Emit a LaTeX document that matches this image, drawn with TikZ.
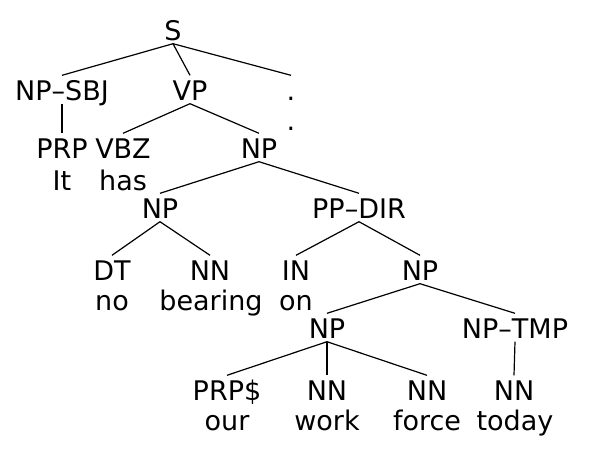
\documentclass[tikz,border=0pt]{standalone}
\usepackage{fontspec}
\setmainfont{DejaVu Sans}
\begin{document}
\begin{tikzpicture}[x=1pt,y=-1pt,
  lab/.style={font=\fontsize{27}{27}\selectfont, anchor=base, inner xsep=0pt, inner ysep=3.5pt, text height=21pt, text depth=0pt},
  word/.style={font=\fontsize{27}{27}\selectfont, anchor=base, inner sep=0pt},
  branch/.style={line width=1.2pt, black}]
\useasboundingbox (0,0) rectangle (590,448);
% categories
\node[lab] (S) at (173,40) {S};
\node[lab] (NPSBJ) at (62,100) {NP–SBJ};
\node[lab] (VP) at (190,100) {VP};
\node[lab] (dotc) at (291,100) {.};
\node[lab] (PRP) at (62,158) {PRP};
\node[lab] (VBZ) at (123,158) {VBZ};
\node[lab] (NPa) at (259,158) {NP};
\node[lab] (NPb) at (160,218) {NP};
\node[lab] (PPDIR) at (359,218) {PP–DIR};
\node[lab] (DT) at (112,280) {DT};
\node[lab] (NNa) at (210,280) {NN};
\node[lab] (IN) at (296,280) {IN};
\node[lab] (NPc) at (420,280) {NP};
\node[lab] (NPd) at (327,338) {NP};
\node[lab] (NPTMP) at (515,338) {NP–TMP};
\node[lab] (PRPD) at (227,400) {PRP\$};
\node[lab] (NNb) at (327,400) {NN};
\node[lab] (NNc) at (427,400) {NN};
\node[lab] (NNd) at (514,400) {NN};
% words
\node[word] (wdot) at (291,130) {.};
\node[word] (wIt) at (62,190) {It};
\node[word] (whas) at (123,190) {has};
\node[word] (wno) at (112,310) {no};
\node[word] (wbearing) at (211,310) {bearing};
\node[word] (won) at (296,310) {on};
\node[word] (wour) at (227,430) {our};
\node[word] (wwork) at (327,430) {work};
\node[word] (wforce) at (427,430) {force};
\node[word] (wtoday) at (515,430) {today};
% branches
\draw[branch] (S.south) -- (NPSBJ.north);
\draw[branch] (S.south) -- (VP.north);
\draw[branch] (S.south) -- (dotc.north);
\draw[branch] (NPSBJ.south) -- (PRP.north);
\draw[branch] (VP.south) -- (VBZ.north);
\draw[branch] (VP.south) -- (NPa.north);
\draw[branch] (NPa.south) -- (NPb.north);
\draw[branch] (NPa.south) -- (PPDIR.north);
\draw[branch] (NPb.south) -- (DT.north);
\draw[branch] (NPb.south) -- (NNa.north);
\draw[branch] (PPDIR.south) -- (IN.north);
\draw[branch] (PPDIR.south) -- (NPc.north);
\draw[branch] (NPc.south) -- (NPd.north);
\draw[branch] (NPc.south) -- (NPTMP.north);
\draw[branch] (NPd.south) -- (PRPD.north);
\draw[branch] (NPd.south) -- (NNb.north);
\draw[branch] (NPd.south) -- (NNc.north);
\draw[branch] (NPTMP.south) -- (NNd.north);
\end{tikzpicture}
\end{document}
